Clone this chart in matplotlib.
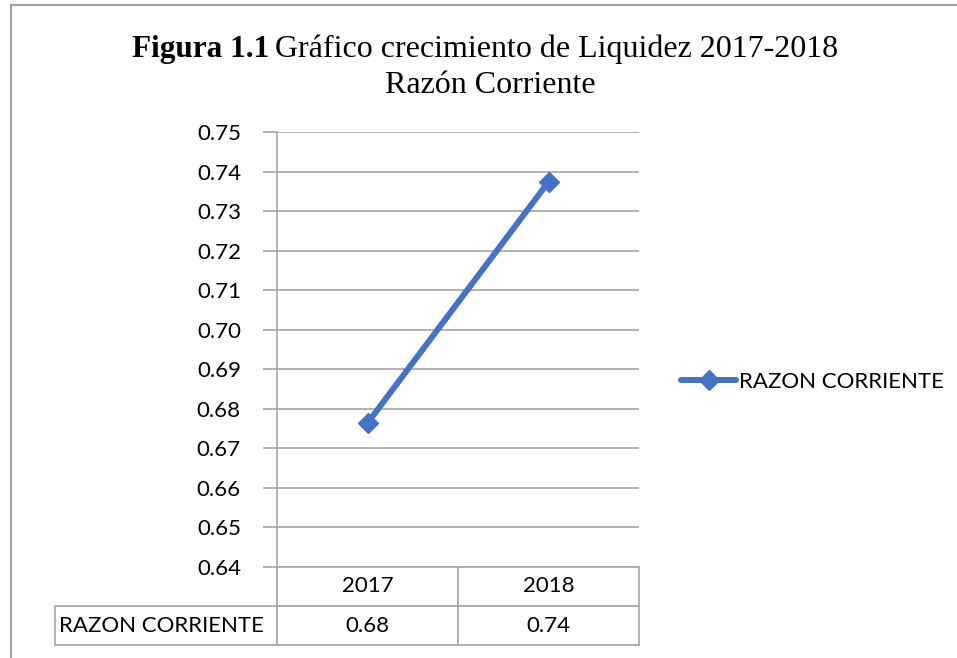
import matplotlib.pyplot as plt
import matplotlib.lines as mlines

# data
years = ['2017', '2018']
razon = [0.6764, 0.7374]
razon_txt = ['0.68', '0.74']
serie = 'RAZON CORRIENTE'
yticks = [0.64, 0.65, 0.66, 0.67, 0.68, 0.69, 0.70, 0.71, 0.72, 0.73, 0.74, 0.75]

W, H = 957, 658
blue = '#4472C4'
grid_c = '#A6A6A6'
sans = ['Lato', 'DejaVu Sans']
fs = 16

fig = plt.figure(figsize=(W / 100, H / 100), dpi=100)

# outer frame (top and left only visible)
fig.add_artist(mlines.Line2D([11 / W, 1], [1 - 5 / H, 1 - 5 / H], color='#A0A0A0', lw=1.5))
fig.add_artist(mlines.Line2D([11 / W, 11 / W], [0, 1 - 5 / H], color='#A0A0A0', lw=1.5))

# title
fig.text(269 / W, 1 - 57 / H, 'Figura 1.1', family='Liberation Serif', weight='bold',
         fontsize=22.5, ha='right', va='baseline')
fig.text(275 / W, 1 - 57 / H, 'Gráfico crecimiento de Liquidez 2017-2018',
         family='Liberation Serif', fontsize=23, ha='left', va='baseline')
fig.text(490 / W, 1 - 93 / H, 'Razón Corriente', family='Liberation Serif',
         fontsize=23, ha='center', va='baseline')

x0, x1, y0, y1 = 277, 639, 132, 567
ax = fig.add_axes([x0 / W, 1 - y1 / H, (x1 - x0) / W, (y1 - y0) / H])

xs = list(range(len(years)))
ax.plot(xs, razon, color=blue, lw=4.3, marker='D', markersize=10,
        solid_capstyle='round', label=serie, zorder=3)

ax.set_xlim(-0.5, len(years) - 0.5)
ax.set_ylim(yticks[0], yticks[-1])
ax.set_yticks(yticks)
ax.set_yticklabels(['%.2f' % v for v in yticks], family=sans, fontsize=fs)
ax.set_xticks([])
ax.yaxis.grid(True, color=grid_c, lw=1.2)
ax.set_axisbelow(True)
ax.tick_params(axis='y', length=10, color=grid_c, width=1.2, pad=16)
for s in ['top', 'right', 'bottom']:
    ax.spines[s].set_visible(False)
ax.spines['left'].set_color(grid_c)
ax.spines['left'].set_linewidth(1.2)

# data table below the axes
t_left = (55 - x0) / (x1 - x0)
row_h = 39 / (y1 - y0)
tbl = ax.table(cellText=[[''] + years, [serie] + razon_txt],
               colWidths=[-t_left, 0.5, 0.5],
               bbox=[t_left, -2 * row_h, 1 - t_left, 2 * row_h],
               cellLoc='center')
tbl.auto_set_font_size(False)
for (r, c), cell in tbl.get_celld().items():
    cell.set_edgecolor(grid_c)
    cell.set_linewidth(1.2)
    cell.get_text().set_fontsize(fs)
    cell.get_text().set_family(sans)
    if r == 0 and c == 0:
        cell.visible_edges = 'R'
    if c == 0 and r == 1:
        cell.get_text().set_ha('left')
        cell.PAD = 0.02

leg = fig.legend(handles=ax.get_lines(), loc='center left',
                 bbox_to_anchor=(672 / W, 1 - 382 / H), frameon=False,
                 prop={'family': sans, 'size': fs}, handlelength=2.5,
                 handletextpad=0.1, borderaxespad=0)

fig.savefig('out.png', dpi=100, facecolor='white')
